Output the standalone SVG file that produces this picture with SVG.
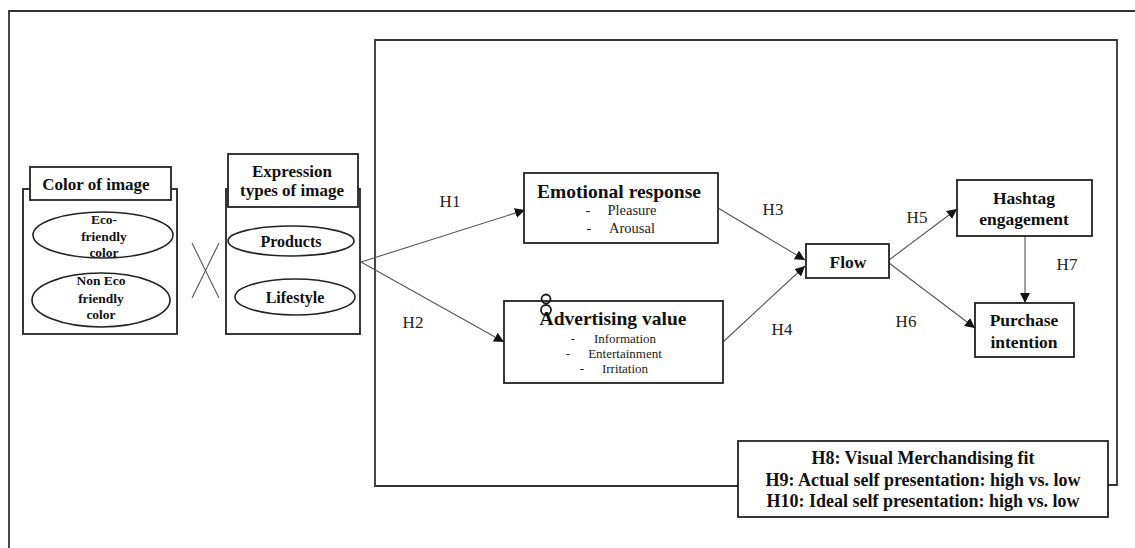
<svg xmlns="http://www.w3.org/2000/svg" width="1135" height="548" viewBox="0 0 1135 548">
<style>
  .box{fill:#fff;stroke:#222;stroke-width:1.8}
  .frame{fill:none;stroke:#333;stroke-width:1.8}
  .ell{fill:#fff;stroke:#222;stroke-width:1.6}
  .conn{fill:none;stroke:#555;stroke-width:1.1}
  .b{font-family:"Liberation Serif",serif;font-weight:bold;fill:#111;text-anchor:middle}
  .r{font-family:"Liberation Serif",serif;fill:#222;text-anchor:middle}
</style>
<defs>
  <marker id="arr" viewBox="0 0 10 10" refX="10" refY="5" markerWidth="10" markerHeight="10" markerUnits="userSpaceOnUse" orient="auto">
    <path d="M0,0 L10,5 L0,10 z" fill="#111"/>
  </marker>
</defs>
<rect width="1135" height="548" fill="#fff"/>
<g id="frames">
  <path class="frame" d="M9,548 V11 H1135"/>
  <path class="frame" d="M738,486 H375 V40 H1117 V485 H1108"/>
</g>
<g id="connectors">
  <line class="conn" x1="361" y1="262" x2="525" y2="210" marker-end="url(#arr)"/>
  <line class="conn" x1="361" y1="262" x2="504" y2="342" marker-end="url(#arr)"/>
  <line class="conn" x1="718" y1="208" x2="805" y2="260" marker-end="url(#arr)"/>
  <line class="conn" x1="723" y1="342" x2="805" y2="266" marker-end="url(#arr)"/>
  <line class="conn" x1="889" y1="260" x2="957" y2="209" marker-end="url(#arr)"/>
  <line class="conn" x1="889" y1="263" x2="975" y2="328" marker-end="url(#arr)"/>
  <line class="conn" x1="1025" y1="236" x2="1025" y2="303" marker-end="url(#arr)"/>
  <line class="conn" x1="192" y1="243" x2="219" y2="298" stroke="#222" stroke-width="1.4"/>
  <line class="conn" x1="219" y1="243" x2="192" y2="298" stroke="#222" stroke-width="1.4"/>
</g>
<g id="color-of-image">
  <rect class="box" x="23" y="189" width="154" height="145"/>
  <rect class="box" x="30" y="167" width="141" height="33"/>
  <text class="b" x="96" y="190" font-size="17">Color of image</text>
  <ellipse class="ell" cx="103" cy="235" rx="70" ry="23"/>
  <text class="b" x="104" y="224" font-size="13.5">Eco-</text>
  <text class="b" x="104" y="241" font-size="13.5">friendly</text>
  <text class="b" x="104" y="257" font-size="13.5">color</text>
  <ellipse class="ell" cx="101" cy="300" rx="69" ry="27"/>
  <text class="b" x="101" y="285" font-size="13.5">Non Eco</text>
  <text class="b" x="101" y="303" font-size="13.5">friendly</text>
  <text class="b" x="101" y="319" font-size="13.5">color</text>
</g>
<g id="expression-types">
  <rect class="box" x="226" y="189" width="134" height="145"/>
  <rect class="box" x="228" y="154" width="130" height="53"/>
  <text class="b" x="292" y="177" font-size="17">Expression</text>
  <text class="b" x="292" y="196" font-size="17">types of image</text>
  <ellipse class="ell" cx="291" cy="241" rx="63" ry="15"/>
  <text class="b" x="291" y="247" font-size="16">Products</text>
  <ellipse class="ell" cx="295" cy="297" rx="60" ry="18"/>
  <text class="b" x="295" y="303" font-size="16">Lifestyle</text>
</g>
<g id="emotional-response">
  <rect class="box" x="524" y="173" width="194" height="70"/>
  <text class="b" x="619" y="198" font-size="19.5">Emotional response</text>
  <text class="r" x="588" y="215" font-size="14.5">-</text>
  <text class="r" x="632" y="215" font-size="14.5">Pleasure</text>
  <text class="r" x="589" y="233" font-size="14.5">-</text>
  <text class="r" x="632" y="233" font-size="14.5">Arousal</text>
</g>
<g id="advertising-value">
  <rect class="box" x="504" y="301" width="219" height="82"/>
  <text class="b" x="613" y="325" font-size="19.5">Advertising value</text>
  <text class="r" x="573" y="343" font-size="13">-</text>
  <text class="r" x="625" y="343" font-size="13">Information</text>
  <text class="r" x="568" y="358" font-size="13">-</text>
  <text class="r" x="625" y="358" font-size="13">Entertainment</text>
  <text class="r" x="582" y="373" font-size="13">-</text>
  <text class="r" x="625" y="373" font-size="13">Irritation</text>
  <circle cx="546" cy="299" r="4.5" fill="none" stroke="#1a1a1a" stroke-width="1.8"/>
  <circle cx="546" cy="310" r="5" fill="none" stroke="#1a1a1a" stroke-width="1.8"/>
</g>
<g id="flow">
  <rect class="box" x="806" y="244" width="83" height="34"/>
  <text class="b" x="848" y="268" font-size="17.5">Flow</text>
</g>
<g id="hashtag-engagement">
  <rect class="box" x="957" y="180" width="135" height="56"/>
  <text class="b" x="1024" y="204" font-size="17.5">Hashtag</text>
  <text class="b" x="1024" y="225" font-size="17.5">engagement</text>
</g>
<g id="purchase-intention">
  <rect class="box" x="975" y="303" width="99" height="54"/>
  <text class="b" x="1024" y="326" font-size="17.5">Purchase</text>
  <text class="b" x="1024" y="348" font-size="17.5">intention</text>
</g>
<g id="moderators">
  <rect class="box" x="738" y="441" width="370" height="76"/>
  <text class="b" x="923" y="464" font-size="18">H8: Visual Merchandising fit</text>
  <text class="b" x="923" y="486" font-size="18">H9: Actual self presentation: high vs. low</text>
  <text class="b" x="923" y="507" font-size="18">H10: Ideal self presentation: high vs. low</text>
</g>
<g id="labels">
  <text class="r" x="450" y="207" font-size="17">H1</text>
  <text class="r" x="413" y="328" font-size="17">H2</text>
  <text class="r" x="773" y="215" font-size="17">H3</text>
  <text class="r" x="782" y="335" font-size="17">H4</text>
  <text class="r" x="917" y="223" font-size="17">H5</text>
  <text class="r" x="906" y="327" font-size="17">H6</text>
  <text class="r" x="1067" y="270" font-size="17">H7</text>
</g>
</svg>
